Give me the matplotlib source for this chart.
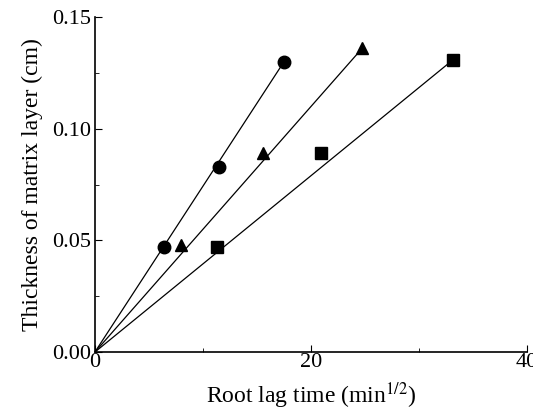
import numpy as np
import matplotlib
matplotlib.use("Agg")
from matplotlib import pyplot as plt
from matplotlib.ticker import MultipleLocator

# Data
circle_x = [6.4, 11.5, 17.5]
circle_y = [0.047, 0.083, 0.130]
triangle_x = [8.0, 15.6, 24.7]
triangle_y = [0.048, 0.089, 0.136]
square_x = [11.3, 20.9, 33.1]
square_y = [0.047, 0.089, 0.131]

# Fitted lines through the origin (slope, end x)
fit_slopes = [0.00743, 0.0055, 0.00395]
fit_ends = [17.5, 24.7, 33.1]

plt.rcParams["font.family"] = ["Liberation Serif", "DejaVu Serif"]
plt.rcParams["mathtext.fontset"] = "stix"

fig = plt.figure(figsize=(5.33, 4.08), dpi=100)
ax = fig.add_axes([0.178, 0.137, 0.811, 0.821])

for slope, x_end in zip(fit_slopes, fit_ends):
    xx = np.array([0.0, x_end])
    ax.plot(xx, slope * xx, color="black", lw=0.9)

ax.plot(circle_x, circle_y, "o", color="black", ms=9)
ax.plot(triangle_x, triangle_y, "^", color="black", ms=9)
ax.plot(square_x, square_y, "s", color="black", ms=8.5)

ax.set_xlim(0, 40)
ax.set_ylim(0, 0.15)
ax.xaxis.set_major_locator(MultipleLocator(20))
ax.xaxis.set_minor_locator(MultipleLocator(10))
ax.yaxis.set_major_locator(MultipleLocator(0.05))
ax.yaxis.set_minor_locator(MultipleLocator(0.025))
ax.set_yticklabels([f"{v:.2f}" for v in ax.get_yticks()])

ax.spines["top"].set_visible(False)
ax.spines["right"].set_visible(False)
ax.spines["left"].set_linewidth(1.2)
ax.spines["bottom"].set_linewidth(1.2)
ax.tick_params(which="both", direction="in", labelsize=16)
ax.tick_params(which="major", length=5)
ax.tick_params(which="minor", length=3)
ax.tick_params(axis="x", pad=1)
ax.tick_params(axis="y", pad=3)

ax.set_xlabel("Root lag time (min$^{1/2}$)", fontsize=17, labelpad=6)
ax.set_ylabel("Thickness of matrix layer (cm)", fontsize=17, labelpad=6)

fig.savefig("out.png", dpi=100)
